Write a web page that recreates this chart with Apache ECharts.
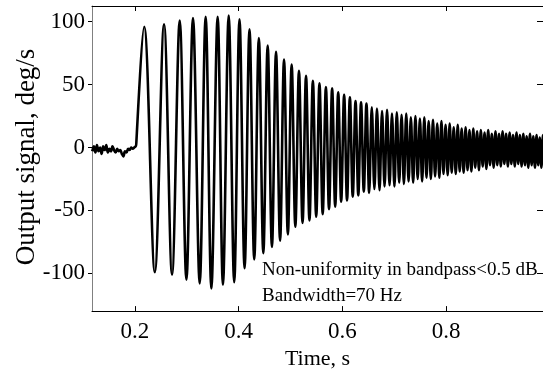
<!DOCTYPE html>
<html>
<head>
<meta charset="utf-8">
<script src="https://cdn.jsdelivr.net/npm/echarts@6/dist/echarts.min.js"></script>
<style>html,body{margin:0;padding:0;background:#fff;}#c{width:543px;height:375px;}</style>
</head>
<body>
<div id="c"></div>
<script>
// ---- data ----
const xTicks = [0.2, 0.4, 0.6, 0.8];
const yTicks = [-100, -50, 0, 50, 100];

// pre-excitation noise
const noiseT = [0.118,0.121,0.124,0.127,0.130,0.133,0.136,0.139,0.142,0.145,0.148,0.151,0.154,0.157,0.160,0.163,0.166,0.169,0.172,0.175,0.178,0.181,0.184,0.187,0.190,0.193,0.196,0.199,0.2025];
const noiseV = [-3,1,-4,2,-3,0,-5,1,-2,2,-4,-1,-3,1,-2,-4,-1,-3,-2,-5,-7,-3,-4,-1,-2,0,-1,0,1];

// chirp response: successive extrema (time, value)
const chirpT = [0.2035,0.218,0.2385,0.2563,0.2717,0.2865,0.2994,0.3121,0.325,0.3365,0.3475,0.3596,0.3698,
0.3809,0.3915,0.4017,0.4115,0.4210,0.4301,0.4390,0.4476,0.4560,0.4642,0.4721,0.4799,0.4875,0.4949,
0.5022,0.5093,0.5163,0.5232,0.5299,0.5365,0.5431,0.5495,0.5558,0.5620,0.5682,0.5742,0.5802,0.5861,
0.5919,0.5976,0.6033,0.6089,0.6144,0.6199,0.6253,0.6306,0.6359,0.6412,0.6463,0.6515,0.6566,0.6616,
0.6666,0.6715,0.6764,0.6812,0.6860,0.6908,0.6955,0.7002,0.7048,0.7094,0.7140,0.7185,0.7230,0.7275,
0.7319,0.7363,0.7407,0.7450,0.7493,0.7536,0.7578,0.7620,0.7662,0.7704,0.7745,0.7786,0.7827,0.7868,
0.7908,0.7948,0.7988,0.8028,0.8067,0.8106,0.8145,0.8184,0.8222,0.8260,0.8298,0.8336,0.8374,0.8411,
0.8448,0.8485,0.8522,0.8559,0.8595,0.8631,0.8667,0.8703,0.8739,0.8774,0.8809,0.8844,0.8879,0.8914,
0.8949,0.8984,0.9018,0.9052,0.9086,0.9120,0.9154,0.9188,0.9222,0.9255,0.9288,0.9321,0.9354,0.9387,
0.9420,0.9453,0.9486,0.9518,0.9550,0.9582,0.9614,0.9646,0.9678,0.9710,0.9741,0.9772,0.9803,0.9834,
0.9865,0.9896];
const chirpV = [1,96,-99,98,-101,101,-105,103,-108,104,-112,104,-109,
105,-107,102,-96,94,-89,87,-84,81,-79,76,-74,70,-69,
66,-63,61,-60,57,-58,53,-55,51,-53,48,-49,47,-47,
44,-43,42,-42,40,-39,37,-38,36,-35,35,-36,32,-33,
31,-34,29,-31,30,-30,27,-31,28,-28,26,-29,27,-27,
24,-28,25,-25,23,-27,24,-24,21,-25,22,-23,19,-24,
21,-21,18,-22,19,-20,16,-21,18,-19,15,-20,16,-18,
14,-19,15,-16,13,-18,14,-15,12,-17,14,-14,11,-16,
13,-14,11,-15,13,-13,11,-15,12,-13,10,-15,12,-13,
10,-15,11,-14,9,-16,11,-14,9,-16,10,-14,8,-16,
10,-15];

const xMin = 0.1175, xMax = 0.9865, yMin = -130, yMax = 112.5;

const series = [];
noiseT.forEach((t, i) => series.push([t, noiseV[i]]));
chirpT.forEach((t, i) => series.push([t, chirpV[i]]));

const FONT = '"Liberation Serif", "Times New Roman", serif';
const chart = echarts.init(document.getElementById('c'), null, {renderer: 'canvas'});
chart.setOption({
  animation: false,
  backgroundColor: '#fff',
  grid: {left: 92, top: 6, right: -1, bottom: 58, containLabel: false},
  xAxis: [{
    type: 'value', min: xMin, max: xMax, position: 'bottom',
    name: 'Time, s', nameLocation: 'middle', nameGap: 36,
    nameTextStyle: {fontFamily: FONT, fontSize: 22, color: '#000'},
    axisLine: {show: true, onZero: false, lineStyle: {color: '#000', width: 1}},
    axisTick: {show: true, inside: true, length: 5, customValues: xTicks, lineStyle: {color: '#000'}},
    axisLabel: {show: true, customValues: xTicks, margin: 9, fontFamily: FONT, fontSize: 23, color: '#000',
      formatter: v => v.toFixed(1)},
    splitLine: {show: false}
  }, {
    type: 'value', min: xMin, max: xMax, position: 'top',
    axisLine: {show: true, onZero: false, lineStyle: {color: '#000', width: 1}},
    axisTick: {show: true, inside: true, length: 5, customValues: xTicks, lineStyle: {color: '#000'}},
    axisLabel: {show: false}, splitLine: {show: false}
  }],
  yAxis: [{
    type: 'value', min: yMin, max: yMax, position: 'left',
    axisLine: {show: true, onZero: false, lineStyle: {color: '#808080', width: 1}},
    axisTick: {show: true, inside: false, length: 4, customValues: yTicks, lineStyle: {color: '#000'}},
    axisLabel: {show: true, customValues: yTicks, margin: 7, fontFamily: FONT, fontSize: 23, color: '#000'},
    splitLine: {show: false}
  }, {
    type: 'value', min: yMin, max: yMax, position: 'right',
    axisLine: {show: true, onZero: false, lineStyle: {color: '#000', width: 1}},
    axisTick: {show: true, inside: true, length: 6, customValues: yTicks, lineStyle: {color: '#000'}},
    axisLabel: {show: false}, splitLine: {show: false}
  }],
  series: [{
    type: 'line', xAxisIndex: 0, yAxisIndex: 0,
    data: series, showSymbol: false, symbol: 'none', smooth: 0.35,
    lineStyle: {color: '#000', width: 2.6}
  }],
  graphic: [
    {type: 'text', x: 27, y: 157, rotation: Math.PI / 2, silent: true,
     style: {text: 'Output signal, deg/s', fontFamily: FONT, fontSize: 27, fill: '#000',
             textAlign: 'center', textVerticalAlign: 'middle'}},
    {type: 'text', left: 262, top: 261, silent: true,
     style: {text: 'Non-uniformity in bandpass<0.5 dB', fontFamily: FONT, fontSize: 19, fill: '#000'}},
    {type: 'text', left: 262, top: 287, silent: true,
     style: {text: 'Bandwidth=70 Hz', fontFamily: FONT, fontSize: 19, fill: '#000'}}
  ]
});
</script>
</body>
</html>
